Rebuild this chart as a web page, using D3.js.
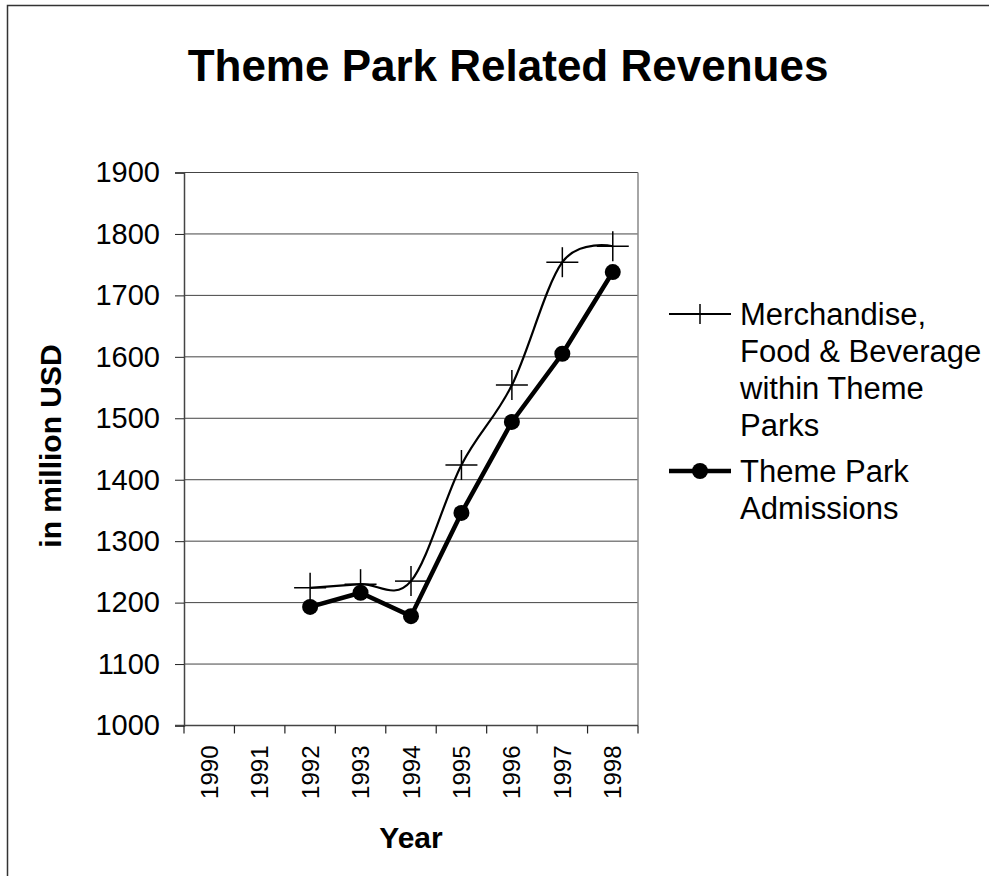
<!DOCTYPE html>
<html>
<head>
<meta charset="utf-8">
<script src="https://cdn.jsdelivr.net/npm/d3@7"></script>
<style>
  html, body { margin: 0; padding: 0; background: #fff; }
  svg { display: block; font-family: "Liberation Sans", Arial, sans-serif; }
</style>
</head>
<body>
<svg id="chart" width="989" height="876"></svg>
<script>
// Chart data
const years = ["1990", "1991", "1992", "1993", "1994", "1995", "1996", "1997", "1998"];
const merchandise = [null, null, 1224, 1230, 1235, 1424, 1554, 1754, 1780];
const admissions = [null, null, 1193, 1216, 1178, 1346, 1494, 1605, 1738];
const yTicks = [1000, 1100, 1200, 1300, 1400, 1500, 1600, 1700, 1800, 1900];
const seriesNames = [
  ["Merchandise,", "Food & Beverage", "within Theme", "Parks"],
  ["Theme Park", "Admissions"]
];
const chartTitle = "Theme Park Related Revenues";
const xTitle = "Year";
const yTitle = "in million USD";

const svg = d3.select("#chart");

// outer chart frame
svg.append("rect")
  .attr("x", 7.5).attr("y", 5.5)
  .attr("width", 1000).attr("height", 900)
  .attr("fill", "none").attr("stroke", "#333").attr("stroke-width", 1.5);

const plot = { left: 184, right: 638, top: 172.5, bottom: 725.5 };

const x = d3.scaleBand().domain(years).range([plot.left, plot.right]).padding(0);
const cx = d => x(d) + x.bandwidth() / 2;
const y = d3.scaleLinear().domain([1000, 1900]).range([plot.bottom, plot.top]);

// horizontal gridlines
svg.append("g").selectAll("line")
  .data(yTicks.filter(t => t > 1000))
  .join("line")
  .attr("x1", plot.left).attr("x2", plot.right)
  .attr("y1", d => y(d)).attr("y2", d => y(d))
  .attr("stroke", "#444").attr("stroke-width", 1);

// right edge of plot area
svg.append("line")
  .attr("x1", plot.right).attr("x2", plot.right)
  .attr("y1", plot.top).attr("y2", plot.bottom)
  .attr("stroke", "#888").attr("stroke-width", 1.5);

// y axis
const yAxis = d3.axisLeft(y).tickValues(yTicks).tickSize(9).tickPadding(15).tickFormat(d3.format("d"));
const gy = svg.append("g").attr("transform", `translate(${plot.left},0)`).call(yAxis);
gy.select(".domain").attr("stroke", "#444").attr("stroke-width", 1.5);
gy.selectAll(".tick line").attr("stroke", "#222");
gy.selectAll(".tick text")
  .attr("font-size", 29).attr("fill", "#000")
  .attr("font-family", "Liberation Sans, Arial, sans-serif");

// x axis with tick marks on category boundaries
const gx = svg.append("g").attr("transform", `translate(0,${plot.bottom})`);
gx.append("line")
  .attr("x1", plot.left - 9).attr("x2", plot.right)
  .attr("y1", 0).attr("y2", 0)
  .attr("stroke", "#444").attr("stroke-width", 1.5);
const bounds = years.map(d => x(d)).concat([plot.right]);
gx.selectAll("line.tk").data(bounds).join("line")
  .attr("class", "tk")
  .attr("x1", d => d).attr("x2", d => d)
  .attr("y1", 0).attr("y2", 8)
  .attr("stroke", "#222").attr("stroke-width", 1.2);
gx.selectAll("text").data(years).join("text")
  .attr("transform", d => `translate(${cx(d)},${20}) rotate(-90)`)
  .attr("text-anchor", "end")
  .attr("dominant-baseline", "central")
  .attr("font-size", 24)
  .attr("fill", "#000")
  .text(d => d);

// axis titles
svg.append("text")
  .attr("x", (plot.left + plot.right) / 2).attr("y", 848)
  .attr("text-anchor", "middle")
  .attr("font-size", 30).attr("font-weight", "bold")
  .text(xTitle);
svg.append("text")
  .attr("transform", `translate(61,446) rotate(-90)`)
  .attr("text-anchor", "middle")
  .attr("font-size", 30).attr("font-weight", "bold")
  .text(yTitle);

// chart title
svg.append("text")
  .attr("x", 508).attr("y", 81)
  .attr("text-anchor", "middle")
  .attr("font-size", 44).attr("font-weight", "bold")
  .text(chartTitle);

// series lines
const merchPts = years.map((d, i) => [d, merchandise[i]]).filter(p => p[1] != null);
const admPts = years.map((d, i) => [d, admissions[i]]).filter(p => p[1] != null);

const smooth = d3.line().x(p => cx(p[0])).y(p => y(p[1])).curve(d3.curveCardinal.tension(0));
const straight = d3.line().x(p => cx(p[0])).y(p => y(p[1]));

svg.append("path").attr("d", smooth(merchPts))
  .attr("fill", "none").attr("stroke", "#000").attr("stroke-width", 2.2);
svg.append("path").attr("d", straight(admPts))
  .attr("fill", "none").attr("stroke", "#000").attr("stroke-width", 4.5)
  .attr("stroke-linejoin", "round");

// markers
const cross = (g, px, py, hw, hh) => {
  g.append("line").attr("x1", px - hw).attr("x2", px + hw).attr("y1", py).attr("y2", py);
  g.append("line").attr("x1", px).attr("x2", px).attr("y1", py - hh).attr("y2", py + hh);
};
const crossG = svg.append("g").attr("stroke", "#000").attr("stroke-width", 1.5);
merchPts.forEach(p => cross(crossG, cx(p[0]), y(p[1]), 16, 15));

svg.append("g").selectAll("circle").data(admPts).join("circle")
  .attr("cx", p => cx(p[0])).attr("cy", p => y(p[1])).attr("r", 8)
  .attr("fill", "#000");

// legend
const lg = svg.append("g");
const legX1 = 669, legX2 = 731, legMid = 700, textX = 740;
const legY = [314, 471];
const lineH = 37;
lg.append("line").attr("x1", legX1).attr("x2", legX2).attr("y1", legY[0]).attr("y2", legY[0])
  .attr("stroke", "#000").attr("stroke-width", 2.2);
lg.append("line").attr("x1", legMid).attr("x2", legMid).attr("y1", legY[0] - 10).attr("y2", legY[0] + 10)
  .attr("stroke", "#000").attr("stroke-width", 1.5);
lg.append("line").attr("x1", legX1).attr("x2", legX2).attr("y1", legY[1]).attr("y2", legY[1])
  .attr("stroke", "#000").attr("stroke-width", 4.5);
lg.append("circle").attr("cx", legMid).attr("cy", legY[1]).attr("r", 8).attr("fill", "#000");

seriesNames.forEach((lines, si) => {
  const t = lg.append("text").attr("font-size", 31).attr("fill", "#000");
  lines.forEach((ln, li) => {
    t.append("tspan").attr("x", textX).attr("y", legY[si] + 11 + li * lineH).text(ln);
  });
});
</script>
</body>
</html>
